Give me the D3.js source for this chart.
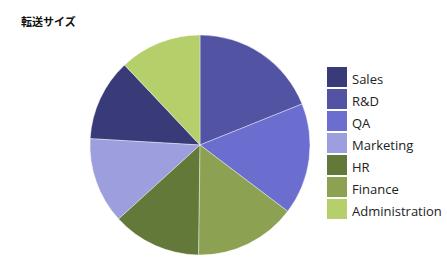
<!DOCTYPE html>
<html lang="ja">
<head>
  <meta charset="UTF-8">
  <title>転送サイズ</title>
  <style>
    *{ margin:0; padding:0; }
    body{ background:#fff; }
  </style>
  <script src="https://cdn.jsdelivr.net/npm/d3@7/dist/d3.min.js"></script>
</head>
<body>
  <svg id="mainsvg"></svg>
  <script>
    const categories = ['Sales', 'R&D', 'QA', 'Marketing', 'HR', 'Finance', 'Administration']
    const values = [43.4, 68.1, 59.0, 45.6, 47.0, 53.6, 43.3]
    const colors = ['#393b79', '#5254a3', '#6b6ecf', '#9c9ede', '#637939', '#8ca252', '#b5cf6b']
    const title = '転送サイズ'

    const width = 447, height = 261
    const svg = d3.select('#mainsvg').attr('width', width).attr('height', height)

    const data = categories.map((c, i) => ({ name: c, value: values[i] }))
    const color = d3.scaleOrdinal().domain(categories).range(colors)

    svg.append('text')
      .attr('x', 21).attr('y', 26)
      .attr('font-family', '"Noto Sans CJK JP", sans-serif')
      .attr('font-weight', 'bold')
      .attr('font-size', 11)
      .attr('fill', '#111')
      .text(title)

    // pie, d3 default sort (descending by value), starts at 12 o'clock
    const r = 110
    const g = svg.append('g').attr('transform', `translate(${200},${145})`)
    const pie = d3.pie().value(d => d.value)
    const arc = d3.arc().innerRadius(0).outerRadius(r)

    g.selectAll('path').data(pie(data)).join('path')
      .attr('d', arc)
      .attr('fill', d => color(d.data.name))
      .attr('stroke', '#fff')
      .attr('stroke-width', 0.4)

    // legend
    const legend = svg.append('g').attr('transform', 'translate(327,67)')
    const item = legend.selectAll('g').data(categories).join('g')
      .attr('transform', (d, i) => `translate(0,${i * 22})`)
    item.append('rect')
      .attr('width', 20).attr('height', 20)
      .attr('fill', d => color(d))
    item.append('text')
      .attr('x', 25).attr('y', 12)
      .attr('dy', '0.35em')
      .attr('font-family', '"Open Sans", sans-serif')
      .attr('font-size', 13)
      .attr('fill', '#222')
      .text(d => d)
  </script>
</body>
</html>
